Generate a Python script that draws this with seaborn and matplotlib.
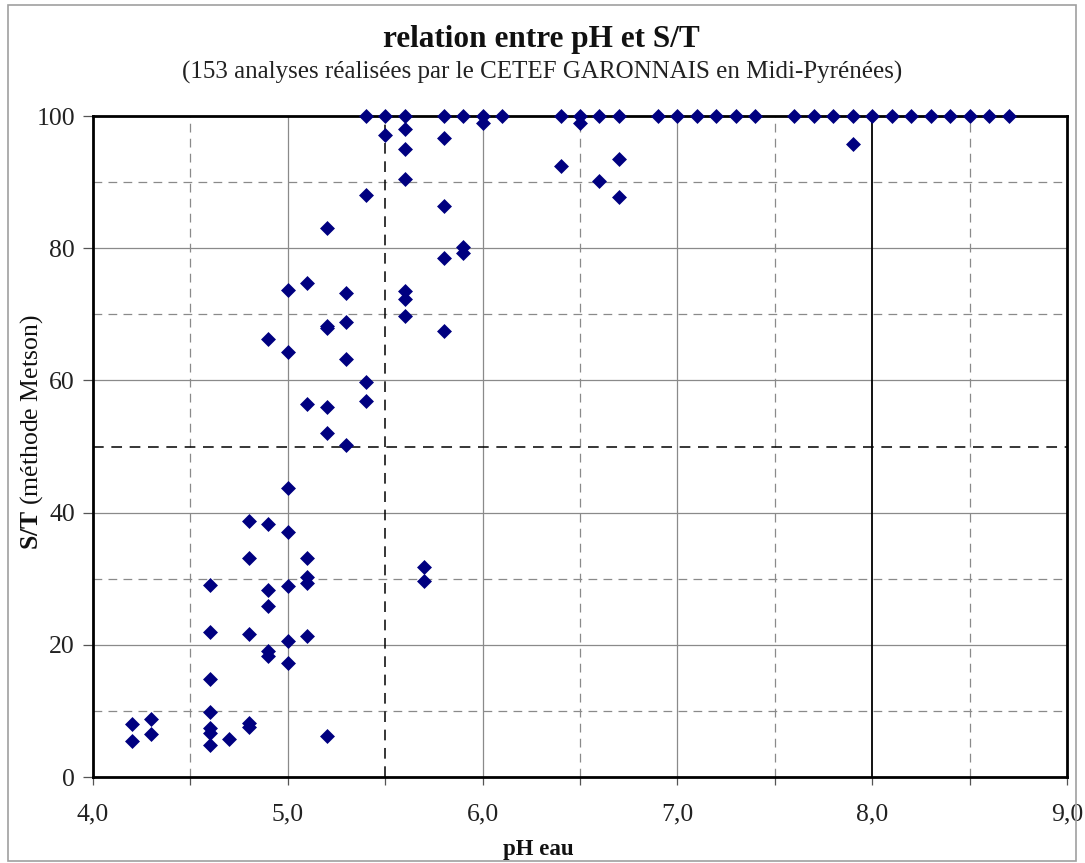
import matplotlib
matplotlib.use("Agg")
import matplotlib.pyplot as plt
import seaborn as sns
import pandas as pd
from matplotlib.ticker import MultipleLocator, FixedLocator
from matplotlib.patches import Rectangle

# ---- data ----
ph = [4.2, 4.2,
      4.3, 4.3,
      4.6, 4.6, 4.6, 4.6, 4.6, 4.6, 4.6,
      4.7,
      4.8, 4.8, 4.8, 4.8, 4.8,
      4.9, 4.9, 4.9, 4.9, 4.9, 4.9,
      5.0, 5.0, 5.0, 5.0, 5.0, 5.0, 5.0,
      5.1, 5.1, 5.1, 5.1, 5.1, 5.1,
      5.2, 5.2, 5.2, 5.2, 5.2, 5.2,
      5.3, 5.3, 5.3, 5.3,
      5.4, 5.4, 5.4, 5.4,
      5.5, 5.5,
      5.6, 5.6, 5.6, 5.6, 5.6, 5.6, 5.6,
      5.7, 5.7,
      5.8, 5.8, 5.8, 5.8, 5.8,
      5.9, 5.9, 5.9,
      6.0, 6.0,
      6.1,
      6.4, 6.4,
      6.5, 6.5,
      6.6, 6.6,
      6.7, 6.7, 6.7,
      6.9, 7.0, 7.1, 7.2, 7.3, 7.4,
      7.6, 7.7, 7.8, 7.9, 7.9, 8.0, 8.1, 8.2, 8.3, 8.4, 8.5, 8.6, 8.7]

st = [8.0, 5.5,
      8.8, 6.5,
      29.0, 21.9, 14.8, 9.8, 7.4, 6.6, 4.8,
      5.7,
      38.7, 33.2, 21.7, 8.1, 7.6,
      66.3, 38.2, 28.3, 25.8, 19.0, 18.3,
      73.7, 64.3, 43.7, 37.0, 28.9, 20.5, 17.2,
      74.8, 56.4, 33.2, 30.3, 29.3, 21.3,
      83.1, 68.3, 68.0, 56.0, 52.0, 6.2,
      73.2, 68.9, 63.2, 50.2,
      100, 88.0, 59.7, 56.9,
      100, 97.1,
      100, 98.1, 95.0, 90.5, 73.6, 72.3, 69.8,
      31.8, 29.7,
      100, 96.7, 86.4, 78.5, 67.4,
      100, 80.2, 79.2,
      100, 99.0,
      100,
      100, 92.5,
      100, 98.9,
      100, 90.2,
      100, 93.5, 87.8,
      100, 100, 100, 100, 100, 100,
      100, 100, 100, 100, 95.8, 100, 100, 100, 100, 100, 100, 100, 100]

x_ticks = [4.0, 5.0, 6.0, 7.0, 8.0, 9.0]
x_tick_labels = ["4,0", "5,0", "6,0", "7,0", "8,0", "9,0"]
y_ticks = [0, 20, 40, 60, 80, 100]
y_tick_labels = ["0", "20", "40", "60", "80", "100"]

title = "relation entre pH et S/T"
subtitle = "(153 analyses réalisées par le CETEF GARONNAIS en Midi-Pyrénées)"

df = pd.DataFrame({"pH": ph, "ST": st})

sns.set_theme(style="white")
plt.rcParams["font.family"] = ["Liberation Serif", "DejaVu Serif"]
plt.rcParams["mathtext.fontset"] = "custom"
plt.rcParams["mathtext.rm"] = "Liberation Serif"
plt.rcParams["mathtext.bf"] = "Liberation Serif:bold"

W, H = 1085, 863
fig = plt.figure(figsize=(W / 100, H / 100), dpi=100)
fig.patch.set_facecolor("white")

left, right, top, bottom = 93, 1067, 116, 777
ax = fig.add_axes([left / W, 1 - bottom / H, (right - left) / W, (bottom - top) / H])

# chart border
fig.patches.append(Rectangle((8 / W, 2 / H), (1076 - 8) / W, (858 - 2) / H,
                             transform=fig.transFigure, fill=False,
                             edgecolor="#a0a0a0", linewidth=1.2))

ax.set_xlim(4.0, 9.0)
ax.set_ylim(0, 100)

# grid
grey = "#8a8a8a"
for xv in [5.0, 6.0, 7.0]:
    ax.axvline(xv, color=grey, lw=0.9, zorder=1)
for xv in [4.5, 6.5, 7.5, 8.5]:
    ax.axvline(xv, color=grey, lw=0.9, ls=(0, (7, 5)), zorder=1)
for yv in [20, 40, 60, 80]:
    ax.axhline(yv, color=grey, lw=0.9, zorder=1)
for yv in [10, 30, 70, 90]:
    ax.axhline(yv, color=grey, lw=0.9, ls=(0, (7, 5)), zorder=1)
ax.axvline(5.5, color="black", lw=1.1, ls=(0, (7, 5)), zorder=1)
ax.axhline(50, color="black", lw=1.1, ls=(0, (7, 5)), zorder=1)
ax.axvline(8.0, color="black", lw=1.3, zorder=1)

sns.scatterplot(data=df, x="pH", y="ST", marker="D", color="#000080",
                s=58, linewidth=0, ax=ax, clip_on=False, zorder=3)

for sp in ax.spines.values():
    sp.set_color("black")
    sp.set_linewidth(2.0)
    sp.set_zorder(2)

ax.xaxis.set_major_locator(FixedLocator(x_ticks))
ax.set_xticklabels(x_tick_labels)
ax.xaxis.set_minor_locator(MultipleLocator(0.5))
ax.yaxis.set_major_locator(FixedLocator(y_ticks))
ax.set_yticklabels(y_tick_labels)
ax.tick_params(axis="x", which="both", direction="out", length=6, width=0.9,
               color="#555555", labelsize=18.5, pad=13, bottom=True)
ax.tick_params(axis="y", which="major", direction="out", length=7, width=0.9,
               color="#555555", labelsize=18.5, pad=6, left=True)
ax.tick_params(axis="y", which="minor", left=False)
for lab in ax.get_xticklabels() + ax.get_yticklabels():
    lab.set_color("#222222")

ax.set_xlabel("")
ax.set_ylabel("")

fig.text(541 / W, 1 - 40 / H, title, ha="center", va="center",
         fontsize=22.5, fontweight="bold", color="#111111")
fig.text(542 / W, 1 - 72 / H, subtitle, ha="center", va="center",
         fontsize=18, color="#222222")
fig.text(538 / W, 1 - 849 / H, "pH eau", ha="center", va="center",
         fontsize=16.5, fontweight="bold", color="#111111")
fig.text(32 / W, 1 - 432 / H, r"$\mathbf{S/T}$ (méthode Metson)",
         ha="center", va="center", rotation=90, fontsize=18.5, color="#111111")

fig.savefig("out.png", dpi=100, facecolor="white")
